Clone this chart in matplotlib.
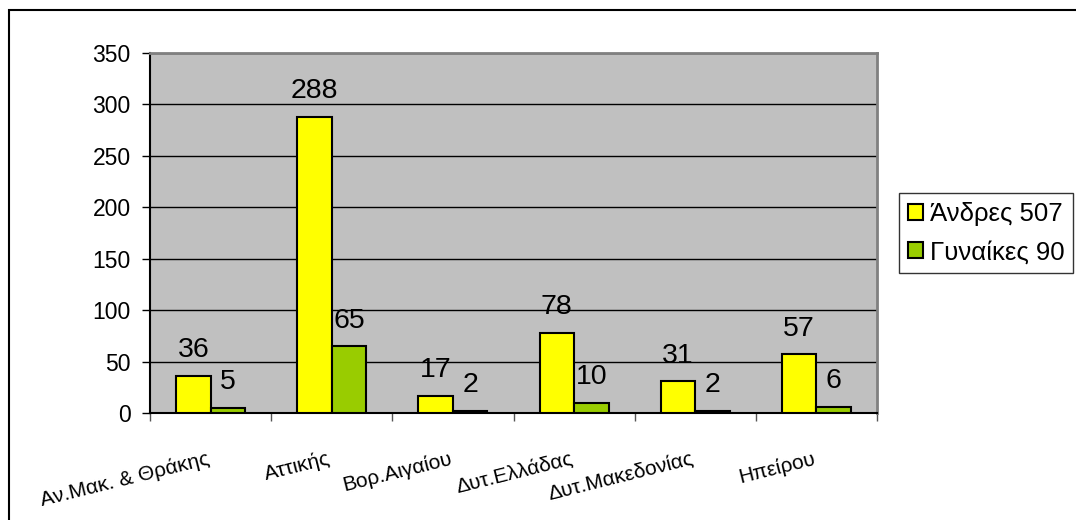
import matplotlib.pyplot as plt
import matplotlib.patches as mpatches
import matplotlib.transforms as mtransforms
import numpy as np

plt.rcParams['font.family'] = ['Liberation Sans', 'DejaVu Sans']

regions = ["Αν.Μακ. & Θράκης", "Αττικής", "Βορ.Αιγαίου", "Δυτ.Ελλάδας",
           "Δυτ.Μακεδονίας", "Ηπείρου"]
men = [36, 288, 17, 78, 31, 57]
women = [5, 65, 2, 10, 2, 6]
men_label = "Άνδρες 507"
women_label = "Γυναίκες 90"

fig = plt.figure(figsize=(10.76, 5.2), dpi=100)
ax = fig.add_axes([150 / 1076, 1 - 413 / 520, 727 / 1076, 360 / 520])
ax.set_facecolor("#C0C0C0")

x = np.arange(len(regions))
w = 0.285
b1 = ax.bar(x - w / 2, men, w, color="#FFFF00", edgecolor="black", linewidth=1.5,
            label=men_label, zorder=3)
b2 = ax.bar(x + w / 2, women, w, color="#99CC00", edgecolor="black", linewidth=1.5,
            label=women_label, zorder=3)
ax.bar_label(b1, padding=9, fontsize=20.5)
ax.bar_label(b2, padding=9, fontsize=20.5)

ax.set_xlim(-0.5, len(regions) - 0.5)
ax.set_ylim(0, 350)
ax.set_yticks(np.arange(0, 351, 50))
ax.yaxis.grid(True, color="black", linewidth=1)
ax.set_axisbelow(True)
ax.tick_params(axis="y", labelsize=16.5, length=6, width=1, direction="out", pad=8)

ax.set_xticks(x)
ax.set_xticklabels(regions, rotation=14, ha="right", rotation_mode="anchor",
                   fontsize=15)
ax.tick_params(axis="x", which="major", length=0, pad=26)
ax.set_xticks(np.arange(-0.5, len(regions), 1), minor=True)
ax.tick_params(axis="x", which="minor", length=6, width=1, color="#555555")
shift = mtransforms.ScaledTranslation(-4 / 100, 0, fig.dpi_scale_trans)
for lbl in ax.get_xticklabels():
    lbl.set_transform(lbl.get_transform() + shift)

for s in ["top", "right"]:
    ax.spines[s].set_color("#808080")
    ax.spines[s].set_linewidth(2)
ax.spines["left"].set_linewidth(1.5)
ax.spines["bottom"].set_linewidth(1.5)

leg = fig.legend(loc="upper left", bbox_to_anchor=(899 / 1076, 1 - 193 / 520),
                 fontsize=18.5, frameon=True, fancybox=False, edgecolor="black",
                 handlelength=0.6, handleheight=0.6, handletextpad=0.25,
                 borderpad=0.35, labelspacing=0.55, borderaxespad=0)
leg.get_frame().set_linewidth(1)

# outer chart-area border (cut off at right/bottom)
fig.patches.append(mpatches.Rectangle((9 / 1076, -0.2), 1.2, 1.2 - 10 / 520,
                                      transform=fig.transFigure, fill=False,
                                      edgecolor="black", linewidth=1.5))

fig.savefig("out.png", dpi=100)
